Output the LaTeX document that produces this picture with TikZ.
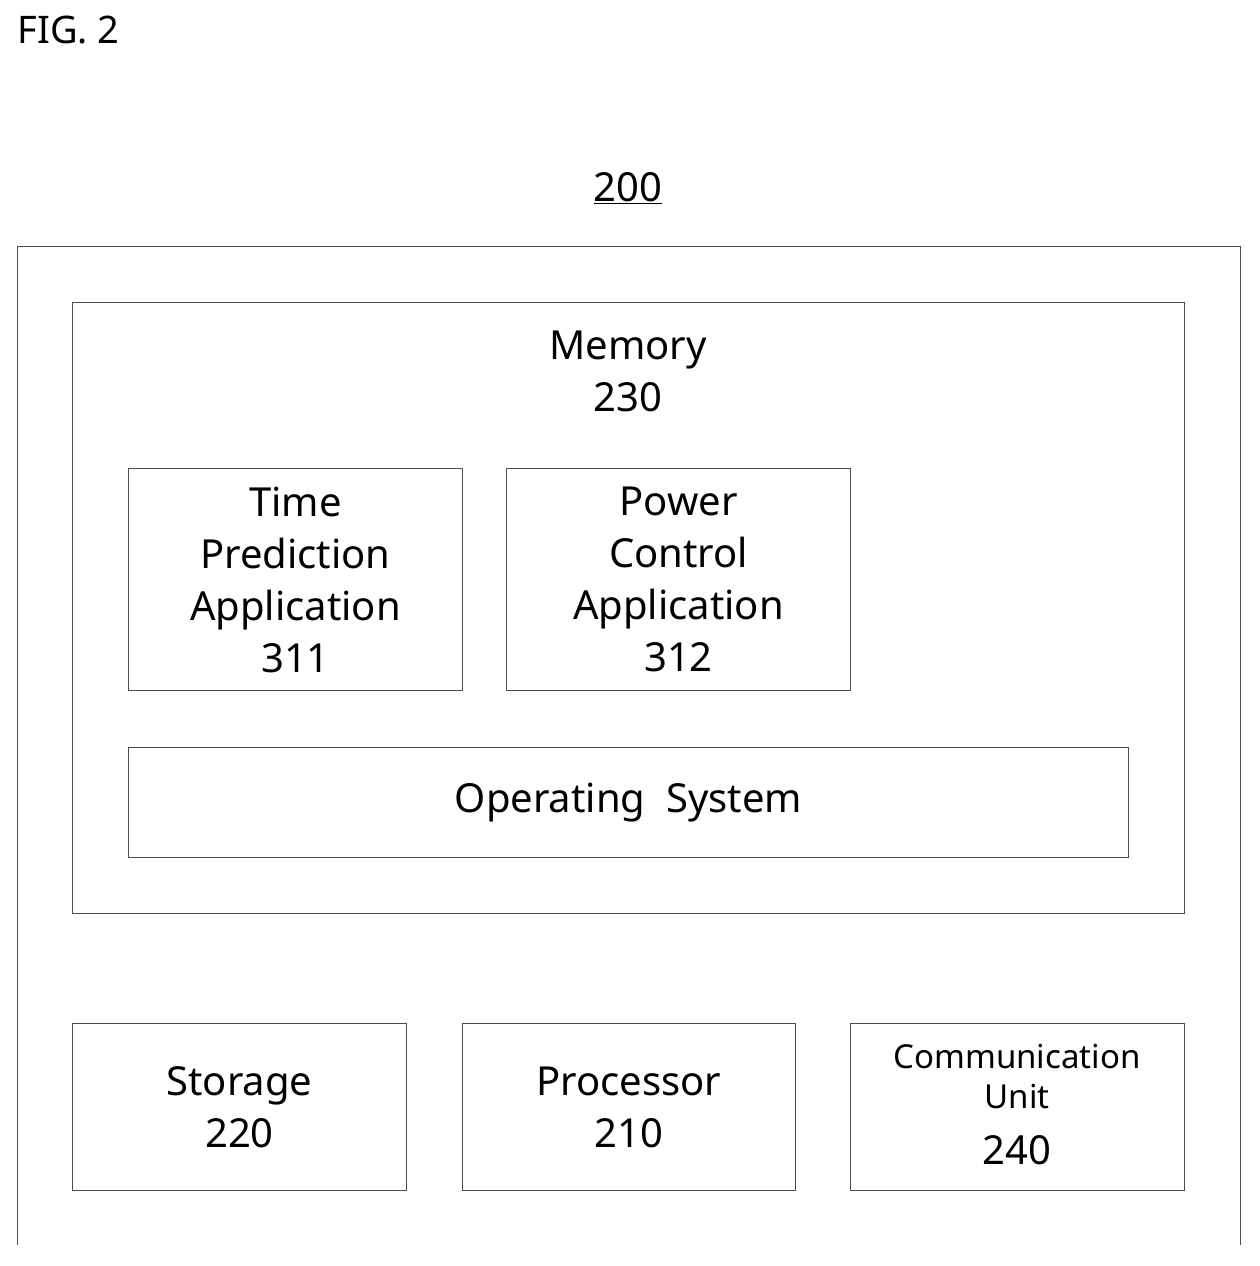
\documentclass[tikz,border=0pt]{standalone}
\usepackage{fontspec}
\setmainfont{Noto Sans}
\begin{document}
\begin{tikzpicture}[x=1pt,y=-1pt,
 box/.style={draw=black!70,line width=1pt,inner sep=0pt},
 lbl/.style={font=\bfseries\fontsize{40}{56}\selectfont,align=center},
 sm/.style={font=\bfseries\fontsize{33}{46}\selectfont,align=center}]
\useasboundingbox (0,0) rectangle (1260,1266);
\node[anchor=north west,font=\bfseries\fontsize{38}{44}\selectfont] (fig) at (14,12) {FIG. 2};
\node[lbl] (n200) at (628,188) {\underline{200}};
\draw[black!70,line width=1pt] (17,1245) -- (17,246) -- (1240,246) -- (1240,1245);
\node[box,minimum width=1112,minimum height=611,anchor=north west] (mem) at (72,302) {};
\node[lbl] (memt) at (628,371) {Memory\\[-4pt]230};
\node[box,minimum width=334,minimum height=222,anchor=north west] (tp) at (128,468) {};
\node[lbl] at (tp.center) {Time\\[-4pt]Prediction\\[-4pt]Application\\[-4pt]311};
\node[box,minimum width=344,minimum height=222,anchor=north west] (pc) at (506,468) {};
\node[lbl] at (pc.center) {Power\\[-4pt]Control\\[-4pt]Application\\[-4pt]312};
\node[box,minimum width=1000,minimum height=110,anchor=north west] (os) at (128,747) {};
\node[lbl] at (os.center) {Operating\ \ System};
\node[box,minimum width=334,minimum height=167,anchor=north west] (st) at (72,1023) {};
\node[lbl] at (st.center) {Storage\\[-4pt]220};
\node[box,minimum width=333,minimum height=167,anchor=north west] (pr) at (462,1023) {};
\node[lbl] at (pr.center) {Processor\\[-4pt]210};
\node[box,minimum width=334,minimum height=167,anchor=north west] (cu) at (850,1023) {};
\node[sm] at (1017,1076) {Communication\\[-6pt]Unit};
\node[lbl] at (1017,1150) {240};
\end{tikzpicture}
\end{document}
